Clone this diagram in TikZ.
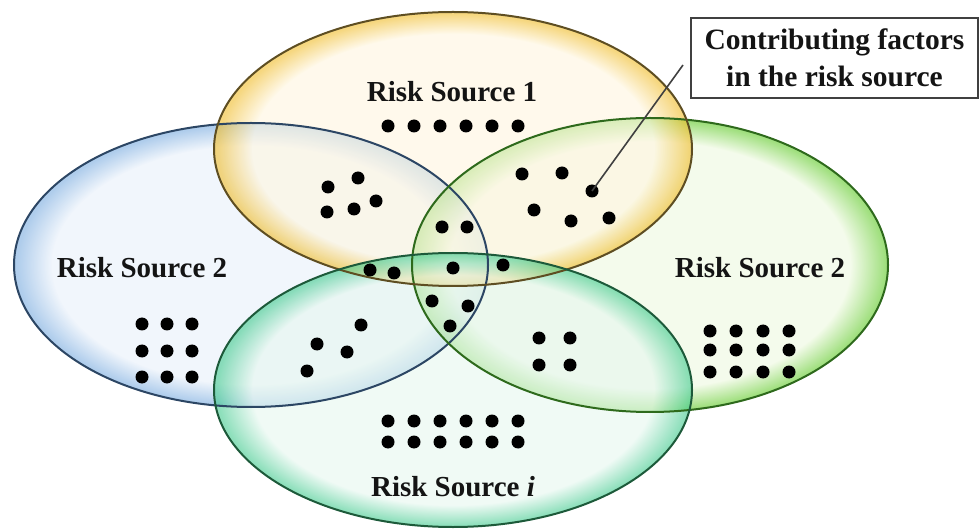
\documentclass[tikz,border=0pt]{standalone}
\usepackage{fontspec}
\setmainfont{Liberation Serif}
\definecolor{yIn}{HTML}{FFF6E0}
\definecolor{yRim}{HTML}{F0BE30}
\definecolor{yLine}{HTML}{5E4E22}
\definecolor{bIn}{HTML}{E8F0FA}
\definecolor{bRim}{HTML}{7EAEE0}
\definecolor{bLine}{HTML}{2C4664}
\definecolor{gIn}{HTML}{EEF9E0}
\definecolor{gRim}{HTML}{66CC30}
\definecolor{gLine}{HTML}{2E6A1C}
\definecolor{tIn}{HTML}{E6F7EF}
\definecolor{tRim}{HTML}{48CC92}
\definecolor{tLine}{HTML}{1D5A3A}
\definecolor{txt}{HTML}{141414}
\pgfdeclareradialshading{rimY}{\pgfpoint{0bp}{0bp}}{color(0bp)=(yIn); color(21bp)=(yIn); color(24.7bp)=(yRim); color(50bp)=(yRim)}
\pgfdeclareradialshading{rimB}{\pgfpoint{0bp}{0bp}}{color(0bp)=(bIn); color(21bp)=(bIn); color(24.7bp)=(bRim); color(50bp)=(bRim)}
\pgfdeclareradialshading{rimG}{\pgfpoint{0bp}{0bp}}{color(0bp)=(gIn); color(21bp)=(gIn); color(24.7bp)=(gRim); color(50bp)=(gRim)}
\pgfdeclareradialshading{rimT}{\pgfpoint{0bp}{0bp}}{color(0bp)=(tIn); color(21bp)=(tIn); color(24.7bp)=(tRim); color(50bp)=(tRim)}
\begin{document}
\begin{tikzpicture}[x=1pt,y=-1pt,
  blob/.style={fill opacity=0.62},
  rim/.style={line width=2pt},
  lbl/.style={font=\fontsize{29}{33}\selectfont\bfseries, text=txt, inner sep=0pt},
  dot/.style={circle, fill=black, minimum size=13pt, inner sep=0pt},
  calloutbox/.style={draw=black!75, line width=2pt, font=\fontsize{29.5}{37}\selectfont\bfseries, text=txt, align=center, minimum width=287pt, minimum height=80pt, inner sep=0pt},
  leader/.style={draw=black!75, line width=1.6pt}]
\useasboundingbox (0,0) rectangle (980,529);
% filled sets
\shade[blob, shading=rimB] (251,265) ellipse [x radius=237, y radius=142];
\shade[blob, shading=rimG] (650,265) ellipse [x radius=238, y radius=147];
\shade[blob, shading=rimY] (453,149) ellipse [x radius=239, y radius=137];
\shade[blob, shading=rimT] (453,390) ellipse [x radius=239, y radius=137];
% outlines
\draw[rim, draw=bLine] (251,265) ellipse [x radius=237, y radius=142];
\draw[rim, draw=gLine] (650,265) ellipse [x radius=238, y radius=147];
\draw[rim, draw=yLine] (453,149) ellipse [x radius=239, y radius=137];
\draw[rim, draw=tLine] (453,390) ellipse [x radius=239, y radius=137];
% labels
\node[lbl] (l1) at (452,92) {Risk Source 1};
\node[lbl] (l2) at (142,268) {Risk Source 2};
\node[lbl] (l3) at (760,268) {Risk Source 2};
\node[lbl] (l4) at (453,487) {Risk Source \textit{i}};
% dots: risk source 1 only
\foreach \x [count=\k] in {388,414,440,466,492,518} \node[dot] (ya\k) at (\x,126) {};
% yellow & blue
\foreach \p [count=\k] in {(328,187),(358,178),(327,212),(354,209),(376,201)} \node[dot] (yb\k) at \p {};
% yellow & green
\foreach \p [count=\k] in {(522,174),(562,173),(592,191),(534,210),(571,221),(609,218)} \node[dot] (yg\k) at \p {};
% yellow, blue & green
\foreach \p [count=\k] in {(442,227),(467,227)} \node[dot] (ybg\k) at \p {};
% band
\foreach \p [count=\k] in {(370,270),(394,273),(453,268),(503,265)} \node[dot] (band\k) at \p {};
% blue, green & teal
\foreach \p [count=\k] in {(432,301),(468,306),(450,326)} \node[dot] (bgt\k) at \p {};
% blue & teal
\foreach \p [count=\k] in {(361,325),(317,344),(347,352),(307,371)} \node[dot] (bt\k) at \p {};
% green & teal
\foreach \p [count=\k] in {(539,338),(570,338),(539,365),(570,365)} \node[dot] (gt\k) at \p {};
% blue only
\foreach \x [count=\i] in {142,167,192}
  \foreach \y [count=\j] in {324,351,377} \node[dot] (bo\i\j) at (\x,\y) {};
% green only
\foreach \x [count=\i] in {710,736,763,789}
  \foreach \y [count=\j] in {331,350,372} \node[dot] (go\i\j) at (\x,\y) {};
% teal only
\foreach \x [count=\i] in {388,414,440,466,492,518}
  \foreach \y [count=\j] in {421,442} \node[dot] (to\i\j) at (\x,\y) {};
% callout
\node[calloutbox] (callout) at (834.5,58) {Contributing factors\\in the risk source};
\coordinate (lead) at (683,65);
\draw[leader] (yg3.center) -- (lead);
\end{tikzpicture}
\end{document}
